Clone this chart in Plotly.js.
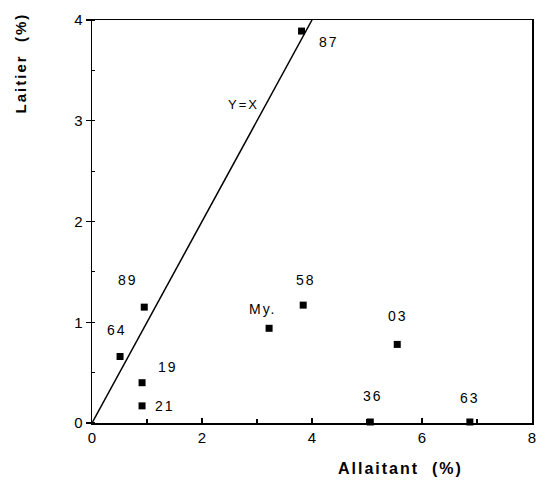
<!DOCTYPE html>
<html>
<head>
<meta charset="utf-8">
<script src="https://cdn.plot.ly/plotly-3.0.1.min.js"></script>
<style>
html,body{margin:0;padding:0;background:#fff;}
.annotation-text{letter-spacing:2px;}
</style>
</head>
<body>
<div id="chart" style="width:536px;height:481px;"></div>
<script>
// Data
const names = ["87", "89", "64", "19", "21", "My.", "58", "03", "36", "63"];
const allaitant = [3.81, 0.95, 0.51, 0.91, 0.91, 3.22, 3.84, 5.55, 5.06, 6.87];
const laitier   = [3.89, 1.15, 0.66, 0.40, 0.17, 0.94, 1.17, 0.78, 0.01, 0.01];
const refLineX = [0, 4];
const refLineY = [0, 4];
const xTickVals = [0, 2, 4, 6, 8];
const yTickVals = [0, 1, 2, 3, 4];

// label offsets (pixels) relative to each point
const labelDx = [27, -16, -3, 26, 23, -6, 3, 1, 3, 0];
const labelDy = [-11, 27, 27, 16, 0, 19, 25, 28, 26, 24];

const font = "Liberation Sans, Arial, Helvetica, sans-serif";

const traces = [
  {
    x: refLineX, y: refLineY, mode: "lines", type: "scatter",
    line: {color: "#000", width: 1.5}, hoverinfo: "skip", cliponaxis: true
  },
  {
    x: allaitant, y: laitier, mode: "markers", type: "scatter",
    marker: {symbol: "square", size: 7, color: "#000"}, cliponaxis: false
  }
];

const annotations = names.map((n, i) => ({
  x: allaitant[i], y: laitier[i], xref: "x", yref: "y",
  text: n, showarrow: false, xshift: labelDx[i], yshift: labelDy[i],
  font: {family: font, size: 14, color: "#000"}
}));

annotations.push({
  x: 3.16, y: 3.16, xref: "x", yref: "y", text: "Y=X", showarrow: false,
  xshift: -22, yshift: 0, font: {family: font, size: 13, color: "#000"}
});
annotations.push({
  x: 0.70, y: -0.112, xref: "paper", yref: "paper", text: "Allaitant\u00a0\u00a0(%)",
  showarrow: false, xanchor: "center", yanchor: "middle",
  font: {family: font, size: 16, color: "#000", weight: "bold"}
});
annotations.push({
  x: -0.163, y: 0.893, xref: "paper", yref: "paper", text: "Laitier\u00a0\u00a0(%)",
  showarrow: false, xanchor: "center", yanchor: "middle", textangle: -90,
  font: {family: font, size: 15, color: "#000", weight: "bold"}
});

const layout = {
  width: 536, height: 481,
  margin: {l: 92, r: 4, t: 20, b: 58},
  paper_bgcolor: "#fff", plot_bgcolor: "#fff",
  showlegend: false,
  font: {family: font, color: "#000"},
  xaxis: {
    range: [0, 8], tickvals: xTickVals, ticks: "inside", ticklen: 5, tickwidth: 1.2,
    tickcolor: "#000", showline: true, linecolor: "#000", linewidth: 1.5, mirror: true,
    showgrid: false, zeroline: false, tickfont: {family: font, size: 15, color: "#000"},
    ticklabeloverflow: "allow",
    minor: {dtick: 1, ticks: "inside", ticklen: 4, tickcolor: "#000", showgrid: false}
  },
  yaxis: {
    range: [0, 4], tickvals: yTickVals, ticks: "outside", ticklen: 5, tickwidth: 1.2,
    tickcolor: "#000", showline: true, linecolor: "#000", linewidth: 1.5, mirror: true,
    showgrid: false, zeroline: false, tickfont: {family: font, size: 15, color: "#000"},
    minor: {dtick: 0.5, ticks: "inside", ticklen: 3, tickcolor: "#000", showgrid: false}
  },
  annotations: annotations
};

Plotly.newPlot("chart", traces, layout, {displayModeBar: false, staticPlot: true});
</script>
</body>
</html>
